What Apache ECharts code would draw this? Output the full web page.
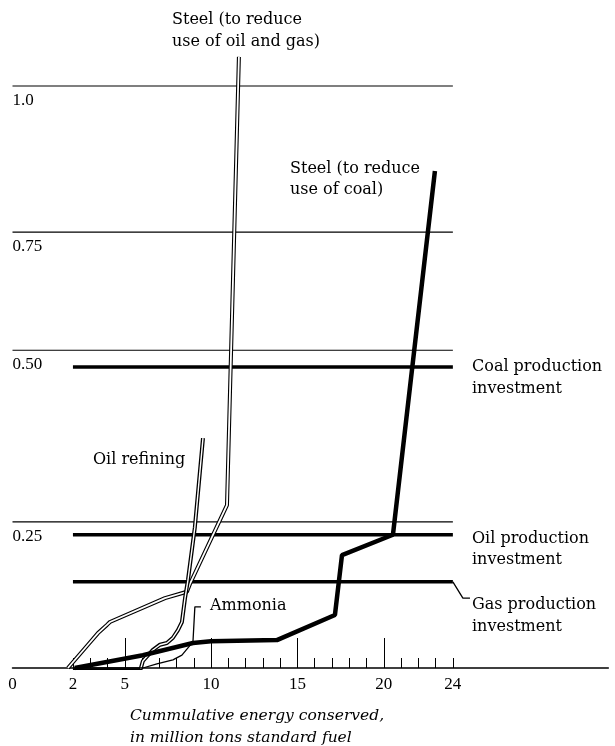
<!DOCTYPE html>
<html>
<head>
<meta charset="utf-8">
<title>Cummulative energy conserved</title>
<script src="https://cdn.jsdelivr.net/npm/echarts@6.0.0/dist/echarts.min.js"></script>
<style>
  html, body { margin: 0; padding: 0; background: #fff; }
  #chart { width: 615px; height: 746px; }
</style>
</head>
<body>
<div id="chart"></div>
<script>
// x axis: broken at the start, "0" sits at the left end of the axis
const xMin = -1.5
const xMax = 33
const xTickValues = [2, 5, 10, 15, 20, 24]
const xTickLabels = ["2", "5", "10", "15", "20", "24"]
const xSmallTicks = [2, 3, 4, 5, 6, 7, 8, 9, 10, 11, 12, 13, 14, 15, 16, 17, 18, 19, 20, 21, 22, 23, 24]
const xLongTicks = [5, 10, 15, 20]
const xEnd = 24

// y: thin guide lines and their labels
const yLineValues = [0.251, 0.546, 0.749, 1.0]
const yTickLabels = ["0.25", "0.50", "0.75", "1.0"]

// investment levels (thick horizontal lines)
const coalInvest = 0.517
const oilInvest = 0.229
const gasInvest = 0.148

// curves
const steelOilGas = [[1.71, 0], [2.87, 0.040], [3.45, 0.060], [3.97, 0.074], [4.14, 0.079], [7.33, 0.120],
  [8.60, 0.131], [8.77, 0.144], [10.92, 0.280], [11.61, 1.050]]
const oilRefining = [[2.0, -0.004], [5.9, -0.004], [6.05, 0.012], [6.63, 0.031], [7.04, 0.040], [7.44, 0.043],
  [7.79, 0.052], [8.08, 0.065], [8.31, 0.079], [8.49, 0.120], [8.66, 0.151], [9.06, 0.242], [9.53, 0.395]]
const ammonia = [[2.0, 0], [6.05, 0], [6.86, 0.007], [7.79, 0.014], [8.31, 0.022], [8.95, 0.045]]
const ammoniaLeader = [[8.95, 0.045], [9.06, 0.105], [9.41, 0.105]]
const steelCoal = [[2.1, 0], [6.05, 0.022], [8.95, 0.043], [9.99, 0.046], [13.81, 0.048], [17.17, 0.091],
  [17.58, 0.194], [20.53, 0.229], [22.96, 0.854]]
const gasLeader = [[24, 0.148], [24.58, 0.120], [24.99, 0.120]]

const serif = '"DejaVu Serif", serif'
const numFont = '"Liberation Serif", serif'

const chart = echarts.init(document.getElementById("chart"))

function hline(v, from, width) {
  return {
    type: "line", data: [[from, v], [xEnd, v]], symbol: "none", silent: true,
    lineStyle: { color: "#000", width: width }, z: 2
  }
}
function plain(data, width, z) {
  return {
    type: "line", data: data, symbol: "none", silent: true,
    lineStyle: { color: "#000", width: width }, z: z
  }
}

const series = []
yLineValues.forEach(v => series.push(hline(v, xMin, 1.2)))
series.push(hline(coalInvest, 2, 3.5))
series.push(hline(oilInvest, 2, 3.5))
series.push(hline(gasInvest, 2, 3.5))
// double lines: black outline then white core
series.push(plain(steelOilGas, 4, 3))
series.push({ ...plain(steelOilGas, 1.8, 4), lineStyle: { color: "#fff", width: 1.8 } })
series.push(plain(oilRefining, 4, 5))
series.push({ ...plain(oilRefining, 1.4, 6), lineStyle: { color: "#fff", width: 1.4 } })
series.push(plain(ammonia, 1.3, 7))
series.push(plain(ammoniaLeader, 1.3, 7))
series.push(plain(gasLeader, 1.3, 7))
series.push(plain(steelCoal, 4.5, 8))

const option = {
  animation: false,
  backgroundColor: "#fff",
  grid: { left: 12.5, right: 6.7, top: 27.8, bottom: 78, containLabel: false },
  xAxis: [
    {
      type: "value", min: xMin, max: xMax, position: "bottom",
      axisLine: { show: true, lineStyle: { color: "#000", width: 1.5 } },
      axisTick: { show: true, inside: true, length: 10, customValues: xSmallTicks, lineStyle: { color: "#000", width: 1 } },
      axisLabel: {
        show: true, customValues: [xMin].concat(xTickValues), margin: 8,
        color: "#000", fontFamily: numFont, fontSize: 17,
        formatter: v => v === xMin ? "0" : xTickLabels[xTickValues.indexOf(v)]
      },
      splitLine: { show: false }
    },
    {
      type: "value", min: xMin, max: xMax, position: "bottom",
      axisLine: { show: false },
      axisTick: { show: true, inside: true, length: 30, customValues: xLongTicks, lineStyle: { color: "#000", width: 1 } },
      axisLabel: { show: false },
      splitLine: { show: false }
    }
  ],
  yAxis: {
    type: "value", min: 0, max: 1.1,
    axisLine: { show: false },
    axisTick: { show: false },
    splitLine: { show: false },
    axisLabel: {
      show: true, inside: true, margin: 0, customValues: yLineValues,
      verticalAlign: "top", padding: [6, 0, 0, 0],
      color: "#000", fontFamily: numFont, fontSize: 17,
      formatter: v => yTickLabels[yLineValues.indexOf(v)]
    }
  },
  series: series,
  graphic: [
    { type: "text", left: 172, top: 9, style: { text: "Steel (to reduce\nuse of oil and gas)", font: "16px " + serif, lineHeight: 22, fill: "#000" } },
    { type: "text", left: 290, top: 158, style: { text: "Steel (to reduce\nuse of coal)", font: "16px " + serif, lineHeight: 21, fill: "#000" } },
    { type: "text", left: 93, top: 452, style: { text: "Oil refining", font: "16px " + serif, fill: "#000" } },
    { type: "text", left: 210, top: 598, style: { text: "Ammonia", font: "16px " + serif, fill: "#000" } },
    { type: "text", left: 472, top: 356, style: { text: "Coal production\ninvestment", font: "16px " + serif, lineHeight: 22, fill: "#000" } },
    { type: "text", left: 472, top: 528, style: { text: "Oil production\ninvestment", font: "16px " + serif, lineHeight: 21, fill: "#000" } },
    { type: "text", left: 472, top: 594, style: { text: "Gas production\ninvestment", font: "16px " + serif, lineHeight: 22, fill: "#000" } },
    { type: "text", left: 130, top: 705, style: { text: "Cummulative energy conserved,\nin million tons standard fuel", font: "italic 15.5px " + serif, lineHeight: 22, fill: "#000" } }
  ]
}
chart.setOption(option)
</script>
</body>
</html>
